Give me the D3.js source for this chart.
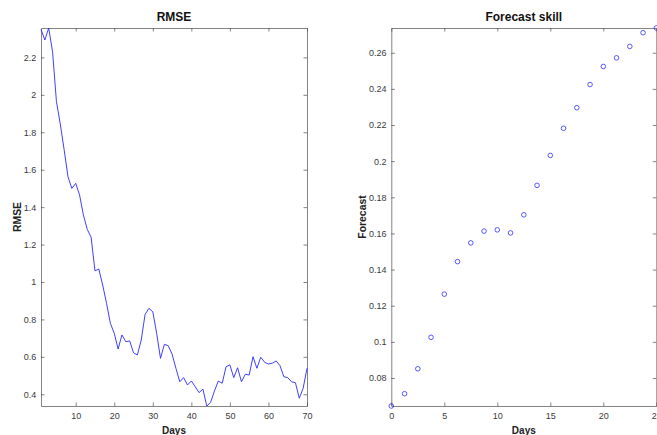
<!DOCTYPE html>
<html>
<head>
<meta charset="utf-8">
<script src="https://cdn.jsdelivr.net/npm/d3@7"></script>
<style>
  body { margin: 0; background: #fff; }
  svg { display: block; font-family: "Liberation Sans", Arial, Helvetica, sans-serif; }
  .tick text { fill: #3a3a3a; font-size: 9px; }
  .tick line, .domain { stroke: #4d4d4d; stroke-width: 0.7; }
</style>
</head>
<body>
<div id="chart"></div>
<script>
// RMSE per day (days 1..70)
const rmseDays = d3.range(1, 71);
const rmseValues = [
  2.350, 2.293, 2.357, 2.230, 1.965, 1.844, 1.707, 1.562, 1.500, 1.527,
  1.465, 1.358, 1.281, 1.239, 1.060, 1.069, 0.984, 0.886, 0.779, 0.726,
  0.642, 0.717, 0.681, 0.685, 0.622, 0.610, 0.690, 0.827, 0.859, 0.841,
  0.726, 0.592, 0.667, 0.660, 0.615, 0.539, 0.467, 0.489, 0.450, 0.471,
  0.441, 0.409, 0.428, 0.337, 0.357, 0.418, 0.471, 0.459, 0.547, 0.557,
  0.489, 0.542, 0.467, 0.507, 0.503, 0.601, 0.539, 0.598, 0.571, 0.562,
  0.566, 0.578, 0.553, 0.494, 0.489, 0.467, 0.462, 0.379, 0.432, 0.539
];

// Forecast skill (every 1.25 days)
const skillDays = [0, 1.25, 2.5, 3.75, 5, 6.25, 7.5, 8.75, 10, 11.25, 12.5,
  13.75, 15, 16.25, 17.5, 18.75, 20, 21.25, 22.5, 23.75, 25];
const skillValues = [0.0645, 0.0713, 0.0851, 0.1025, 0.1264, 0.1444, 0.1548,
  0.1613, 0.1620, 0.1603, 0.1703, 0.1866, 0.2032, 0.2182, 0.2296, 0.2424,
  0.2524, 0.2572, 0.2635, 0.2711, 0.2737];

const rmseXTicks = [10, 20, 30, 40, 50, 60, 70];
const rmseYTicks = [0.4, 0.6, 0.8, 1, 1.2, 1.4, 1.6, 1.8, 2, 2.2];
const skillXTicks = [0, 5, 10, 15, 20, 25];
const skillYTicks = [0.08, 0.1, 0.12, 0.14, 0.16, 0.18, 0.2, 0.22, 0.24, 0.26];

const width = 657, height = 435;
const svg = d3.select('#chart').append('svg')
  .attr('width', width)
  .attr('height', height);

const yTop = 28, yBottom = 406;
const fmt = d => String(+d.toFixed(4));

function drawAxes(x, y, xTicks, yTicks, title) {
  const [x0, x1] = x.range();
  const g = svg.append('g');

  g.append('g')
    .attr('transform', `translate(0,${yBottom})`)
    .call(d3.axisBottom(x).tickValues(xTicks).tickFormat(fmt)
      .tickSizeInner(-3.5).tickSizeOuter(0).tickPadding(6.8));
  g.append('g')
    .attr('transform', `translate(0,${yTop})`)
    .call(d3.axisTop(x).tickValues(xTicks).tickFormat('')
      .tickSizeInner(-3.5).tickSizeOuter(0));
  g.append('g')
    .attr('transform', `translate(${x0},0)`)
    .call(d3.axisLeft(y).tickValues(yTicks).tickFormat(fmt)
      .tickSizeInner(-3.5).tickSizeOuter(0).tickPadding(4.7));
  g.append('g')
    .attr('transform', `translate(${x1},0)`)
    .call(d3.axisRight(y).tickValues(yTicks).tickFormat('')
      .tickSizeInner(-3.5).tickSizeOuter(0));

  // title
  svg.append('text')
    .attr('x', (x0 + x1) / 2)
    .attr('y', 21)
    .attr('text-anchor', 'middle')
    .style('font-size', '12px')
    .style('font-weight', 'bold')
    .style('fill', '#111')
    .text(title);

  // x label
  svg.append('text')
    .attr('x', (x0 + x1) / 2)
    .attr('y', 433.5)
    .attr('text-anchor', 'middle')
    .style('font-size', '10px')
    .style('font-weight', 'bold')
    .style('fill', '#222')
    .text('Days');

  return g;
}

// Left: RMSE
const xL = d3.scaleLinear().domain([1, 70]).range([41, 307]);
const yL = d3.scaleLinear().domain([0.3375, 2.357]).range([yBottom, yTop]);
drawAxes(xL, yL, rmseXTicks, rmseYTicks, 'RMSE');

svg.append('text')
  .attr('transform', `translate(20.7,${(yTop + yBottom) / 2}) rotate(-90)`)
  .attr('text-anchor', 'middle')
  .style('font-size', '10.4px')
  .style('font-weight', 'bold')
  .style('fill', '#222')
  .text('RMSE');

const line = d3.line()
  .x((d, i) => xL(rmseDays[i]))
  .y(d => yL(d));
svg.append('path')
  .datum(rmseValues)
  .attr('d', line)
  .attr('fill', 'none')
  .attr('stroke', '#2a2aff')
  .attr('stroke-width', 0.9);

// Right: Forecast skill
const xR = d3.scaleLinear().domain([0, 25]).range([391.3, 656.3]);
const yR = d3.scaleLinear().domain([0.0645, 0.2737]).range([yBottom, yTop]);
drawAxes(xR, yR, skillXTicks, skillYTicks, 'Forecast skill');

svg.append('text')
  .attr('transform', `translate(366,${(yTop + yBottom) / 2}) rotate(-90)`)
  .attr('text-anchor', 'middle')
  .style('font-size', '10.4px')
  .style('font-weight', 'bold')
  .style('fill', '#222')
  .text('Forecast');

svg.selectAll('circle.skill')
  .data(skillValues)
  .enter()
  .append('circle')
  .attr('class', 'skill')
  .attr('cx', (d, i) => xR(skillDays[i]))
  .attr('cy', d => yR(d))
  .attr('r', 2.3)
  .attr('fill', 'none')
  .attr('stroke', '#3030ff')
  .attr('stroke-width', 0.8);
</script>
</body>
</html>
